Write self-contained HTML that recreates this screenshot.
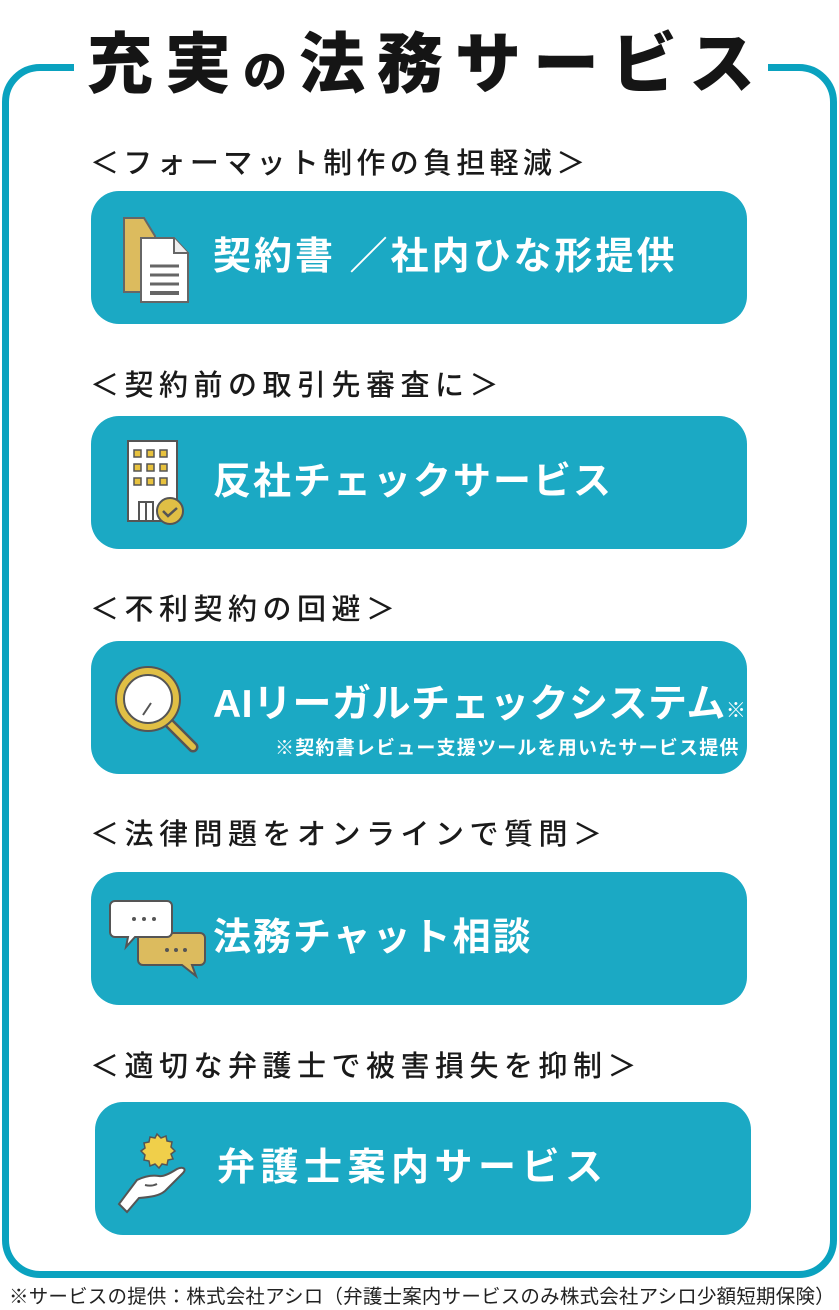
<!DOCTYPE html>
<html><head><meta charset="utf-8"><style>
*{margin:0;padding:0;box-sizing:border-box}
body{width:839px;height:1308px;background:#fff;position:relative;overflow:hidden;font-family:"Liberation Sans","Noto Sans CJK JP",sans-serif}
.frame{position:absolute;left:2px;top:64px;width:835px;height:1214px;border:7px solid #0aa2bf;border-radius:38px}
.gap{position:absolute;left:74px;top:50px;width:694px;height:30px;background:#fff}
.title{position:absolute;left:60px;width:722px;top:22px;text-align:center;font-size:66px;font-weight:900;color:#151515;letter-spacing:12px;line-height:84px;padding-left:12px}
.title small{font-size:44px}
.h{position:absolute;left:90px;font-size:29px;font-weight:500;color:#1a1a1a;line-height:36px;letter-spacing:5.5px;white-space:nowrap}
.btn{position:absolute;left:91px;width:656px;height:133px;background:#1ba9c4;border-radius:28px}
.bt{position:absolute;left:122px;top:42px;font-size:38px;font-weight:700;color:#fff;letter-spacing:2px;line-height:48px;white-space:nowrap}
.ic{position:absolute}
.foot{position:absolute;left:9px;top:1284px;font-size:19.5px;color:#222;white-space:nowrap;line-height:26px;letter-spacing:0.2px}
</style></head><body>
<div class="frame"></div>
<div class="gap"></div>
<div class="title">充実<small>の</small>法務サービス</div>

<div class="h" style="top:146px;letter-spacing:4.3px">＜フォーマット制作の負担軽減＞</div>
<div class="btn" style="top:191px">
<svg class="ic" style="left:30px;top:24px" width="72" height="90" viewBox="0 0 72 90">
<path d="M3 3h20l11 18v56H3z" fill="#dcbb5e" stroke="#666" stroke-width="2"/>
<path d="M20 23h33l14 15v49H20z" fill="#fff" stroke="#666" stroke-width="2"/>
<path d="M53 23v15h14" fill="#eee" stroke="#666" stroke-width="2"/>
<g stroke="#666" stroke-width="3"><line x1="29" y1="51" x2="58" y2="51"/><line x1="29" y1="60" x2="58" y2="60"/><line x1="29" y1="69" x2="58" y2="69"/></g>
<line x1="29" y1="78" x2="58" y2="78" stroke="#666" stroke-width="4"/>
</svg>
<div class="bt" style="letter-spacing:3px">契約書 ／社内ひな形提供</div></div>

<div class="h" style="top:368px">＜契約前の取引先審査に＞</div>
<div class="btn" style="top:416px">
<svg class="ic" style="left:34px;top:22px" width="62" height="90" viewBox="0 0 62 90">
<rect x="3" y="3" width="49" height="80" fill="#fff" stroke="#555" stroke-width="2"/>
<g fill="#e8c23e" stroke="#555" stroke-width="1.5">
<rect x="9" y="12" width="7" height="7"/><rect x="22" y="12" width="7" height="7"/><rect x="35" y="12" width="7" height="7"/>
<rect x="9" y="26" width="7" height="7"/><rect x="22" y="26" width="7" height="7"/><rect x="35" y="26" width="7" height="7"/>
<rect x="9" y="40" width="7" height="7"/><rect x="22" y="40" width="7" height="7"/><rect x="35" y="40" width="7" height="7"/></g>
<path d="M14 83V64h14v19M21 64v19" fill="none" stroke="#555" stroke-width="2"/>
<circle cx="45" cy="73" r="13" fill="#e0bf45" stroke="#555" stroke-width="2"/>
<path d="M38 73l5 5 9-8" fill="none" stroke="#555" stroke-width="2.5"/>
</svg>
<div class="bt">反社チェックサービス</div></div>

<div class="h" style="top:592px">＜不利契約の回避＞</div>
<div class="btn" style="top:641px">
<svg class="ic" style="left:20px;top:22px" width="90" height="90" viewBox="0 0 90 90">
<line x1="56" y1="58" x2="82" y2="84" stroke="#555" stroke-width="11" stroke-linecap="round"/>
<line x1="56" y1="58" x2="82" y2="84" stroke="#e0bf45" stroke-width="6" stroke-linecap="round"/>
<circle cx="37" cy="36" r="32" fill="#e0bf45" stroke="#555" stroke-width="2"/>
<circle cx="37" cy="36" r="24" fill="#fff" stroke="#555" stroke-width="2"/>
<line x1="40" y1="40" x2="32" y2="52" stroke="#555" stroke-width="2"/>
</svg>
<div class="bt" style="top:40px;font-size:39px;letter-spacing:0.5px">AIリーガルチェックシステム<span style="font-size:20px">※</span></div>
<div style="position:absolute;left:184px;top:92px;font-size:19px;font-weight:700;color:#fff;white-space:nowrap;letter-spacing:1.2px">※契約書レビュー支援ツールを用いたサービス提供</div>
</div>

<div class="h" style="top:817px">＜法律問題をオンラインで質問＞</div>
<div class="btn" style="top:872px">
<svg class="ic" style="left:16px;top:26px" width="100" height="84" viewBox="0 0 100 84">
<path d="M36 35h57a5 5 0 0 1 5 5v22a5 5 0 0 1-5 5h-8l4 11-14-11H36a5 5 0 0 1-5-5V40a5 5 0 0 1 5-5z" fill="#dcbb5e" stroke="#555" stroke-width="2"/>
<g fill="#555"><circle cx="60" cy="52" r="2"/><circle cx="69" cy="52" r="2"/><circle cx="78" cy="52" r="2"/></g>
<path d="M8 3h52a5 5 0 0 1 5 5v26a5 5 0 0 1-5 5H28l-9 10 2-10H8a5 5 0 0 1-5-5V8a5 5 0 0 1 5-5z" fill="#fff" stroke="#555" stroke-width="2"/>
<g fill="#555"><circle cx="27" cy="21" r="2"/><circle cx="37" cy="21" r="2"/><circle cx="47" cy="21" r="2"/></g>
</svg>
<div class="bt">法務チャット相談</div></div>

<div class="h" style="top:1049px">＜適切な弁護士で被害損失を抑制＞</div>
<div class="btn" style="top:1102px;left:95px">
<svg class="ic" style="left:22px;top:30px" width="84" height="85" viewBox="0 0 84 85">
<polygon points="40,2 44,6 49,4 50,9 55,10 54,15 58,19 54,22 56,27 51,28 50,33 45,32 42,36 38,32 33,34 32,29 27,28 28,23 24,19 28,16 27,11 32,10 33,5 38,6" fill="#f0cf4a" stroke="#555" stroke-width="1.5"/>
<path d="M20 48c8-4 16-5 22-4 4 1 10-2 18-7 6-3 10 0 6 4l-18 18c-6 5-14 6-26 7L10 80 2 72z" fill="#fff" stroke="#555" stroke-width="2"/>
<path d="M40 52c-4 2-8 2-12 1" fill="none" stroke="#555" stroke-width="2"/>
</svg>
<div class="bt" style="letter-spacing:5.5px">弁護士案内サービス</div></div>

<div class="foot">※サービスの提供：株式会社アシロ（弁護士案内サービスのみ株式会社アシロ少額短期保険）</div>
</body></html>
